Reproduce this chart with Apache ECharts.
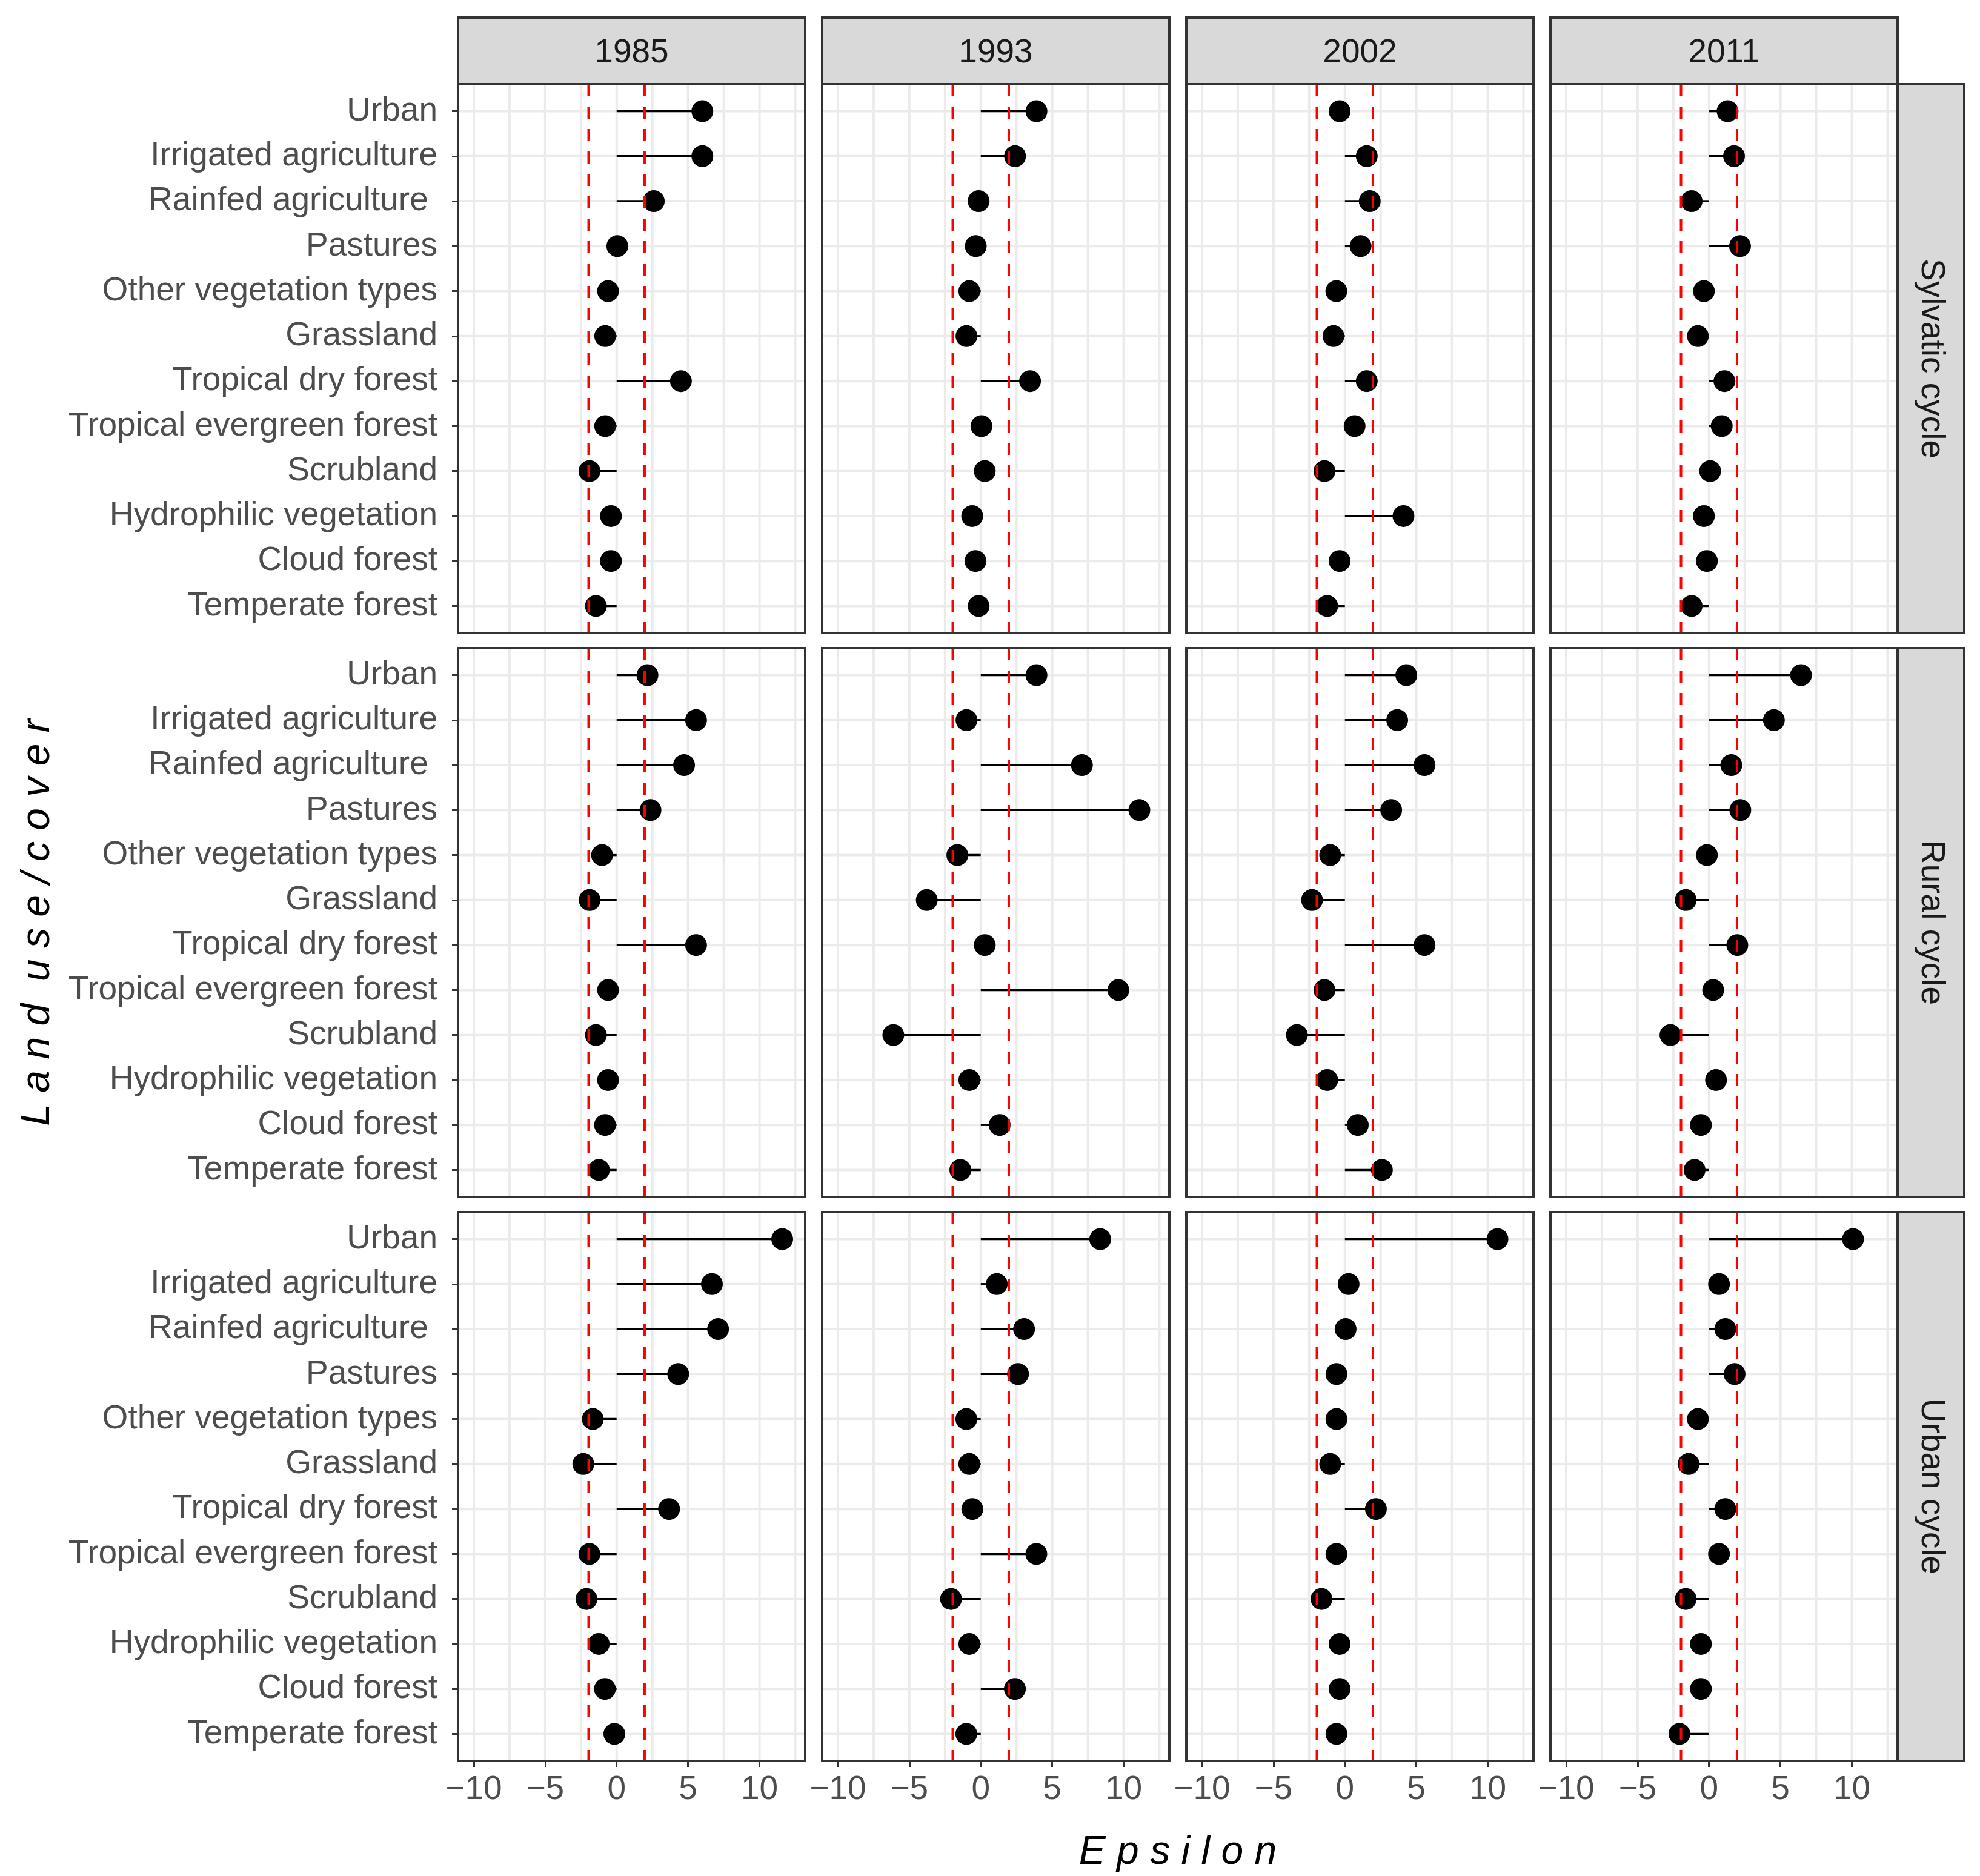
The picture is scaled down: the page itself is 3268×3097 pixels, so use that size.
<!DOCTYPE html>
<html><head><meta charset="utf-8">
<script src="https://cdn.jsdelivr.net/npm/echarts@6/dist/echarts.min.js"></script>
<style>html,body{margin:0;padding:0;background:#fff}#c{width:3268px;height:3097px}</style>
</head><body><div id="c"></div>
<script>
// ---------------- data ----------------
const categories = ["Urban","Irrigated agriculture","Rainfed agriculture ","Pastures","Other vegetation types","Grassland","Tropical dry forest","Tropical evergreen forest","Scrubland","Hydrophilic vegetation","Cloud forest","Temperate forest"];
const years = ["1985","1993","2002","2011"];
const cycles = ["Sylvatic cycle","Rural cycle","Urban cycle"];
const xTicks = [-10,-5,0,5,10];
const xMinorGrid = [-7.5,-2.5,2.5,7.5,12.5];
const thresholds = [-1.96, 1.96];

const sylvatic1985 = [6.0, 6.0, 2.6, 0.05, -0.6, -0.8, 4.5, -0.8, -1.9, -0.4, -0.4, -1.45];
const sylvatic1993 = [3.9, 2.4, -0.15, -0.35, -0.8, -1.0, 3.45, 0.05, 0.28, -0.6, -0.37, -0.15];
const sylvatic2002 = [-0.37, 1.53, 1.74, 1.1, -0.6, -0.8, 1.53, 0.68, -1.43, 4.1, -0.37, -1.24];
const sylvatic2011 = [1.3, 1.75, -1.22, 2.17, -0.36, -0.78, 1.08, 0.89, 0.08, -0.36, -0.15, -1.22];

const rural1985 = [2.16, 5.56, 4.72, 2.37, -1.02, -1.89, 5.56, -0.6, -1.45, -0.6, -0.81, -1.24];
const rural1993 = [3.9, -1.0, 7.08, 11.1, -1.64, -3.78, 0.28, 9.63, -6.12, -0.8, 1.32, -1.43];
const rural2002 = [4.3, 3.66, 5.57, 3.24, -1.03, -2.3, 5.57, -1.43, -3.36, -1.24, 0.9, 2.59];
const rural2011 = [6.44, 4.54, 1.56, 2.19, -0.15, -1.63, 1.98, 0.29, -2.7, 0.49, -0.57, -1.01];

const urban1985 = [11.59, 6.67, 7.1, 4.31, -1.67, -2.33, 3.67, -1.9, -2.11, -1.25, -0.82, -0.16];
const urban1993 = [8.36, 1.12, 3.03, 2.61, -1.01, -0.8, -0.59, 3.89, -2.08, -0.8, 2.39, -1.01];
const urban2002 = [10.68, 0.26, 0.05, -0.59, -0.59, -1.03, 2.17, -0.59, -1.64, -0.37, -0.37, -0.59];
const urban2011 = [10.08, 0.7, 1.14, 1.79, -0.78, -1.43, 1.14, 0.7, -1.63, -0.57, -0.57, -2.07];

const panelValues = [
  [sylvatic1985, sylvatic1993, sylvatic2002, sylvatic2011],
  [rural1985, rural1993, rural2002, rural2011],
  [urban1985, urban1993, urban2002, urban2011]
];

// ---------------- layout ----------------
const FONT = "'Liberation Sans', Arial, sans-serif";
const TICK_FS = 55;
const colLeft = [756, 1357, 1958, 2559];
const rowTop = [139, 1070, 2001];
const panelW = 573, panelH = 906;
const stripSize = 110;
const catIdx = categories.map((_, i) => i + 1);

const grids = [], xAxes = [], yAxes = [], series = [], graphics = [];

function vLine(color, width, dash) {
  return function (params, api) {
    const cs = params.coordSys;
    const x = api.coord([api.value(0), 1])[0];
    return {type: 'line', shape: {x1: x, y1: cs.y, x2: x, y2: cs.y + cs.height},
      style: {stroke: color, lineWidth: width, lineDash: dash || null}};
  };
}

let g = 0;
for (let r = 0; r < 3; r++) {
  for (let c = 0; c < 4; c++) {
    grids.push({left: colLeft[c], top: rowTop[r], width: panelW, height: panelH,
      show: true, backgroundColor: '#FFFFFF', borderWidth: 0});
    xAxes.push({type: 'value', gridIndex: g, min: -11.1, max: 13.2,
      splitLine: {show: false}, axisLine: {show: false, onZero: false},
      axisTick: {show: r === 2, customValues: xTicks, length: 10, lineStyle: {color: '#333333', width: 3}},
      axisLabel: {show: r === 2, customValues: xTicks, margin: 20, fontSize: TICK_FS, fontFamily: FONT, color: '#4D4D4D',
        formatter: v => (v < 0 ? '\u2212' + Math.abs(v) : String(v))}});
    yAxes.push({type: 'value', gridIndex: g, inverse: true, min: 0.4, max: 12.6,
      splitLine: {show: false}, axisLine: {show: false, onZero: false},
      axisTick: {show: c === 0, customValues: catIdx, length: 10, lineStyle: {color: '#333333', width: 3}},
      axisLabel: {show: c === 0, customValues: catIdx, margin: 34, fontSize: TICK_FS, fontFamily: FONT, color: '#4D4D4D',
        formatter: v => categories[Math.round(v) - 1]}});

    const vals = panelValues[r][c];
    const pts = vals.map((v, i) => [v, i + 1]);

    // vertical grid lines
    series.push({type: 'custom', xAxisIndex: g, yAxisIndex: g, z: 1, silent: true,
      data: xTicks.concat(xMinorGrid).map(v => [v, 1]), encode: {x: 0, y: 1},
      renderItem: vLine('#EBEBEB', 4)});
    // horizontal grid lines
    series.push({type: 'custom', xAxisIndex: g, yAxisIndex: g, z: 1, silent: true,
      data: catIdx.map(i => [0, i]), encode: {x: 0, y: 1},
      renderItem: function (params, api) {
        const cs = params.coordSys;
        const y = api.coord([0, api.value(1)])[1];
        return {type: 'line', shape: {x1: cs.x, y1: y, x2: cs.x + cs.width, y2: y},
          style: {stroke: '#EBEBEB', lineWidth: 4}};
      }});
    // segments from 0
    series.push({type: 'custom', xAxisIndex: g, yAxisIndex: g, z: 2, silent: true,
      data: pts, encode: {x: 0, y: 1},
      renderItem: function (params, api) {
        const p0 = api.coord([0, api.value(1)]);
        const p1 = api.coord([api.value(0), api.value(1)]);
        return {type: 'line', shape: {x1: p0[0], y1: p0[1], x2: p1[0], y2: p1[1]},
          style: {stroke: '#000000', lineWidth: 3.5}};
      }});
    // points
    series.push({type: 'scatter', xAxisIndex: g, yAxisIndex: g, z: 3, silent: true,
      data: pts, symbol: 'circle', symbolSize: 36, itemStyle: {color: '#000000', opacity: 1}});
    // thresholds
    series.push({type: 'custom', xAxisIndex: g, yAxisIndex: g, z: 4, silent: true,
      data: thresholds.map(v => [v, 1]), encode: {x: 0, y: 1},
      renderItem: vLine('#FF0000', 4, [20, 17])});

    graphics.push({type: 'rect', z: 100, silent: true,
      shape: {x: colLeft[c], y: rowTop[r], width: panelW, height: panelH},
      style: {fill: 'none', stroke: '#333333', lineWidth: 4}});
    g++;
  }
}

// top strips
for (let c = 0; c < 4; c++) {
  graphics.push({type: 'rect', z: 100, silent: true,
    shape: {x: colLeft[c], y: rowTop[0] - stripSize, width: panelW, height: stripSize},
    style: {fill: '#D9D9D9', stroke: '#333333', lineWidth: 4}});
  graphics.push({type: 'text', z: 101, silent: true,
    x: colLeft[c] + panelW / 2, y: rowTop[0] - stripSize / 2 + 4,
    style: {text: years[c], fontSize: TICK_FS, fontFamily: FONT, fill: '#1A1A1A', align: 'center', verticalAlign: 'middle'}});
}
// right strips
const stripX = colLeft[3] + panelW;
for (let r = 0; r < 3; r++) {
  graphics.push({type: 'rect', z: 100, silent: true,
    shape: {x: stripX, y: rowTop[r], width: stripSize, height: panelH},
    style: {fill: '#D9D9D9', stroke: '#333333', lineWidth: 4}});
  graphics.push({type: 'text', z: 101, silent: true,
    x: stripX + stripSize / 2, y: rowTop[r] + panelH / 2, rotation: -Math.PI / 2,
    style: {text: cycles[r], fontSize: TICK_FS, fontFamily: FONT, fill: '#1A1A1A', align: 'center', verticalAlign: 'middle'}});
}
// axis titles
graphics.push({type: 'text', z: 101, silent: true,
  x: (colLeft[0] + colLeft[3] + panelW) / 2, y: 3059,
  style: {text: 'E p s i l o n', fontSize: 66, fontStyle: 'italic', fontFamily: FONT, fill: '#000000', align: 'center', verticalAlign: 'middle'}});
graphics.push({type: 'text', z: 101, silent: true,
  x: 63, y: (rowTop[0] + rowTop[2] + panelH) / 2, rotation: Math.PI / 2,
  style: {text: 'L a n d  u s e / c o v e r', fontSize: 66, fontStyle: 'italic', fontFamily: FONT, fill: '#000000', align: 'center', verticalAlign: 'middle'}});

const chart = echarts.init(document.getElementById('c'), null, {renderer: 'canvas'});
chart.setOption({
  backgroundColor: '#FFFFFF',
  animation: false,
  grid: grids, xAxis: xAxes, yAxis: yAxes, series: series, graphic: graphics
});
</script>
</body></html>
